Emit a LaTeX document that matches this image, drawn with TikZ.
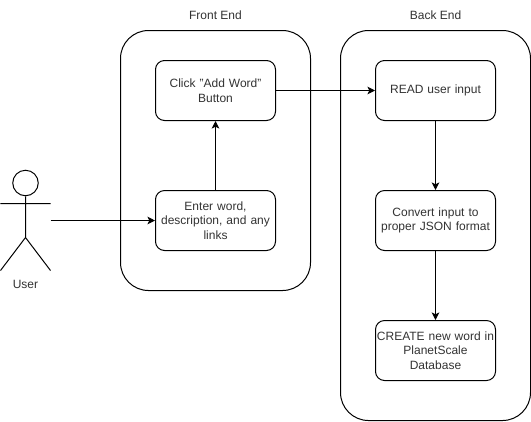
\documentclass[tikz,border=0pt]{standalone}
\usepackage{fontspec}
\setmainfont{Liberation Sans}
\usetikzlibrary{arrows.meta}
\tikzset{
 box/.style={draw=black,line width=1bp,rounded corners=9bp,fill=white,minimum width=120bp,minimum height=60bp,align=center,font=\fontsize{12bp}{14.5bp}\selectfont,inner sep=0pt,text width=120bp,text=black!80},
 lane/.style={draw=black,line width=1bp,rounded corners=28bp,fill=white,inner sep=0pt},
 lbl/.style={font=\fontsize{12bp}{14.5bp}\selectfont,inner sep=0pt,text=black!80},
 conn/.style={draw=black,line width=1bp,-{Stealth[length=7.5bp,width=7.5bp,inset=1.8bp]}},
 act/.style={draw=black,line width=1bp}
}
\begin{document}
\begin{tikzpicture}[x=1bp,y=-1bp]
\useasboundingbox[fill=white] (0,0) rectangle (531,421);
\node[lane,minimum width=190bp,minimum height=260bp] (fe) at (215.5,160.5) {};
\node[lane,minimum width=190bp,minimum height=390bp] (be) at (435.5,225.5) {};
\node[lbl] (fet) at (215.5,15) {Front End};
\node[lbl] (bet) at (435.5,15) {Back End};
\node[box] (add) at (215.5,90.5) {Click "Add Word"\\Button};
\node[box] (enter) at (215.5,220.5) {Enter word,\\description, and any\\links};
\node[box] (read) at (435.5,90.5) {READ user input};
\node[box] (conv) at (435.5,220.5) {Convert input to\\proper JSON format};
\node[box] (create) at (435.5,350.5) {CREATE new word in\\PlanetScale\\Database};
\node[draw=black,line width=1bp,circle,minimum size=25.5bp,inner sep=0pt] (head) at (25.5,183) {};
\coordinate (hip) at (25.5,237.5);
\coordinate (armL) at (0.5,203.5);
\coordinate (armR) at (50.5,203.5);
\coordinate (footL) at (0.5,270.5);
\coordinate (footR) at (50.5,270.5);
\draw[act] (head) -- (hip) (armL) -- (armR) (hip) -- (footL) (hip) -- (footR);
\node[lbl] (user) at (25.5,284) {User};
\coordinate (uout) at (50.5,220.5);
\draw[conn] (uout) -- (enter);
\draw[conn] (enter) -- (add);
\draw[conn] (add) -- (read);
\draw[conn] (read) -- (conv);
\draw[conn] (conv) -- (create);
\end{tikzpicture}
\end{document}
